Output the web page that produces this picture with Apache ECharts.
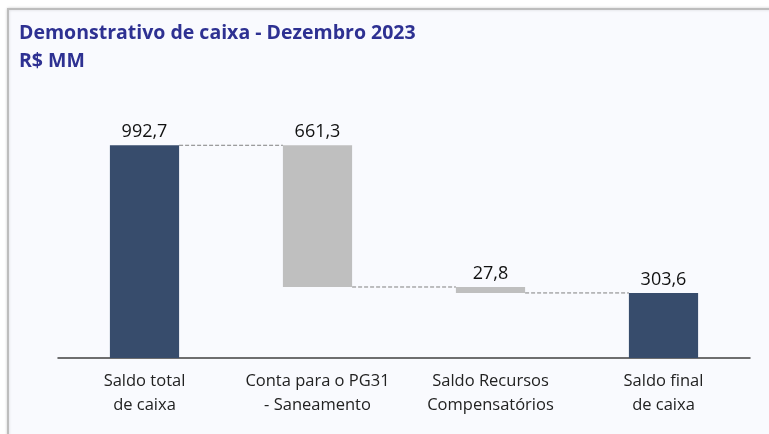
<!DOCTYPE html>
<html>
<head>
<meta charset="utf-8">
<style>
  html, body { margin: 0; padding: 0; background: #ffffff; }
  #chart { width: 769px; height: 434px; }
</style>
<script src="https://cdn.jsdelivr.net/npm/echarts@6/dist/echarts.min.js"></script>
</head>
<body>
<div id="chart"></div>
<script>
// dados do gráfico
var categories = ['Saldo total\nde caixa', 'Conta para o PG31\n- Saneamento', 'Saldo Recursos\nCompensatórios', 'Saldo final\nde caixa'];
var values = [992.7, 661.3, 27.8, 303.6];
var isTotal = [true, false, false, true];
var labels = ['992,7', '661,3', '27,8', '303,6'];

// base invisivel da cascata
var base = [];
var running = 0;
for (var i = 0; i < values.length; i++) {
    if (isTotal[i]) {
        base.push(0);
        running = values[i];
    } else {
        running = running - values[i];
        base.push(running);
    }
}

// linhas tracejadas: do nivel final de cada barra ate a proxima
var connectors = [];
for (var j = 0; j < values.length - 1; j++) {
    connectors.push([j, isTotal[j] ? values[j] : base[j]]);
}

var BAR_RATIO = 0.4;

var myChart = echarts.init(document.getElementById('chart'));
var option = {
    backgroundColor: '#ffffff',
    animation: false,
    graphic: [
        {
            type: 'rect',
            z: -10,
            shape: { x: 8, y: 9, width: 800, height: 480 },
            style: { fill: '#f9fafe', stroke: '#bdbdbd', lineWidth: 2, shadowColor: 'rgba(0,0,0,0.15)', shadowBlur: 3 }
        },
        {
            type: 'text',
            left: 19, top: 19,
            style: {
                text: 'Demonstrativo de caixa - Dezembro 2023\nR$ MM',
                font: 'bold 19.5px "Open Sans"',
                fill: '#2e3192',
                lineHeight: 28
            }
        }
    ],
    grid: { left: 58, right: 19, top: 58, bottom: 76 },
    xAxis: {
        type: 'category',
        data: categories,
        axisTick: { show: false },
        axisLine: { lineStyle: { color: '#404040', width: 1.5 } },
        axisLabel: {
            interval: 0,
            color: '#222222',
            fontFamily: 'Open Sans',
            fontSize: 16.5,
            lineHeight: 24,
            margin: 11
        }
    },
    yAxis: {
        type: 'value',
        min: 0,
        max: 1400,
        show: false,
        splitLine: { show: false }
    },
    series: [
        {
            type: 'bar',
            stack: 'w',
            barWidth: '40%',
            itemStyle: { color: 'transparent' },
            silent: true,
            data: base
        },
        {
            type: 'bar',
            stack: 'w',
            barWidth: '40%',
            data: values.map(function (v, k) {
                return {
                    value: v,
                    itemStyle: { color: isTotal[k] ? '#374c6c' : '#bfbfbf' }
                };
            }),
            label: {
                show: true,
                position: 'top',
                distance: 4,
                color: '#111111',
                fontFamily: 'Open Sans',
                fontSize: 18,
                formatter: function (p) { return labels[p.dataIndex]; }
            }
        },
        {
            type: 'custom',
            data: connectors,
            z: 1,
            renderItem: function (params, api) {
                var idx = api.value(0);
                var level = api.value(1);
                var w = api.size([1, 0])[0] * BAR_RATIO;
                var p1 = api.coord([idx, level]);
                var p2 = api.coord([idx + 1, level]);
                return {
                    type: 'line',
                    shape: { x1: p1[0] + w / 2, y1: p1[1], x2: p2[0] - w / 2, y2: p2[1] },
                    style: { stroke: '#808080', lineWidth: 1, lineDash: [4, 2] }
                };
            }
        }
    ]
};
myChart.setOption(option);
</script>
</body>
</html>
